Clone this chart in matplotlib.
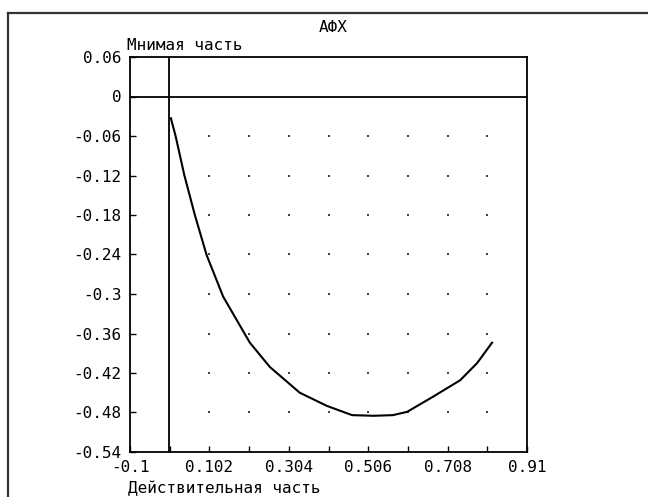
import matplotlib.pyplot as plt
from matplotlib.lines import Line2D
import numpy as np

plt.rcParams["font.family"] = "DejaVu Sans Mono"
plt.rcParams["axes.unicode_minus"] = False

# АФХ curve
re_part = [0.004, 0.016, 0.038, 0.065, 0.095, 0.137, 0.205, 0.256, 0.332,
           0.401, 0.465, 0.520, 0.569, 0.605, 0.671, 0.740, 0.783, 0.821]
im_part = [-0.033, -0.060, -0.119, -0.180, -0.241, -0.304, -0.374, -0.411, -0.450,
           -0.470, -0.484, -0.485, -0.484, -0.479, -0.456, -0.431, -0.405, -0.374]

x_ticks = [-0.1, 0.102, 0.304, 0.506, 0.708, 0.91]
x_labels = ["-0.1", "0.102", "0.304", "0.506", "0.708", "0.91"]
x_minor = [0.001, 0.203, 0.405, 0.607, 0.809]
y_ticks = [0.06, 0, -0.06, -0.12, -0.18, -0.24, -0.3, -0.36, -0.42, -0.48, -0.54]
y_labels = ["0.06", "0", "-0.06", "-0.12", "-0.18", "-0.24", "-0.3",
            "-0.36", "-0.42", "-0.48", "-0.54"]

fig = plt.figure(figsize=(6.48, 4.97), dpi=100)
ax = fig.add_axes([130 / 648, 45 / 497, 397 / 648, 395 / 497])

# dotted grid at tick intersections
gx = sorted([t for t in x_ticks + x_minor if 0.05 < t < 0.91])
gy = [t for t in y_ticks if -0.54 < t < 0]
GX, GY = np.meshgrid(gx, gy)
ax.scatter(GX.ravel(), GY.ravel(), s=2, color="#444444", marker="s", linewidths=0, zorder=1)

ax.axhline(0, color="black", lw=1.3, zorder=2)
ax.axvline(0, color="black", lw=1.3, zorder=2)
ax.plot(re_part, im_part, color="black", lw=1.5, zorder=3)

ax.set_xlim(-0.1, 0.91)
ax.set_ylim(-0.54, 0.06)
ax.set_xticks(x_ticks)
ax.set_xticklabels(x_labels)
ax.set_xticks(x_minor, minor=True)
ax.set_yticks(y_ticks)
ax.set_yticklabels(y_labels)
ax.tick_params(axis="both", which="both", direction="in", length=4, width=1, labelsize=11.5)
ax.tick_params(axis="x", which="both", top=False, pad=6)
ax.tick_params(axis="y", right=False, pad=6)
for s in ax.spines.values():
    s.set_linewidth(1.3)

fig.text(333 / 648, 1 - 27 / 497, "АФХ", ha="center", va="center", fontsize=11.5)
fig.text(127 / 648, 1 - 45 / 497, "Мнимая часть", ha="left", va="center", fontsize=11.5)
fig.text(128 / 648, 1 - 489 / 497, "Действительная часть", ha="left", va="center", fontsize=11.5)

# outer frame (top and left edges)
fig.add_artist(Line2D([8 / 648, 1], [1 - 13 / 497, 1 - 13 / 497], transform=fig.transFigure,
                      color="#333333", lw=1.6))
fig.add_artist(Line2D([8 / 648, 8 / 648], [0, 1 - 13 / 497], transform=fig.transFigure,
                      color="#333333", lw=1.6))

fig.savefig("out.png", dpi=100)
